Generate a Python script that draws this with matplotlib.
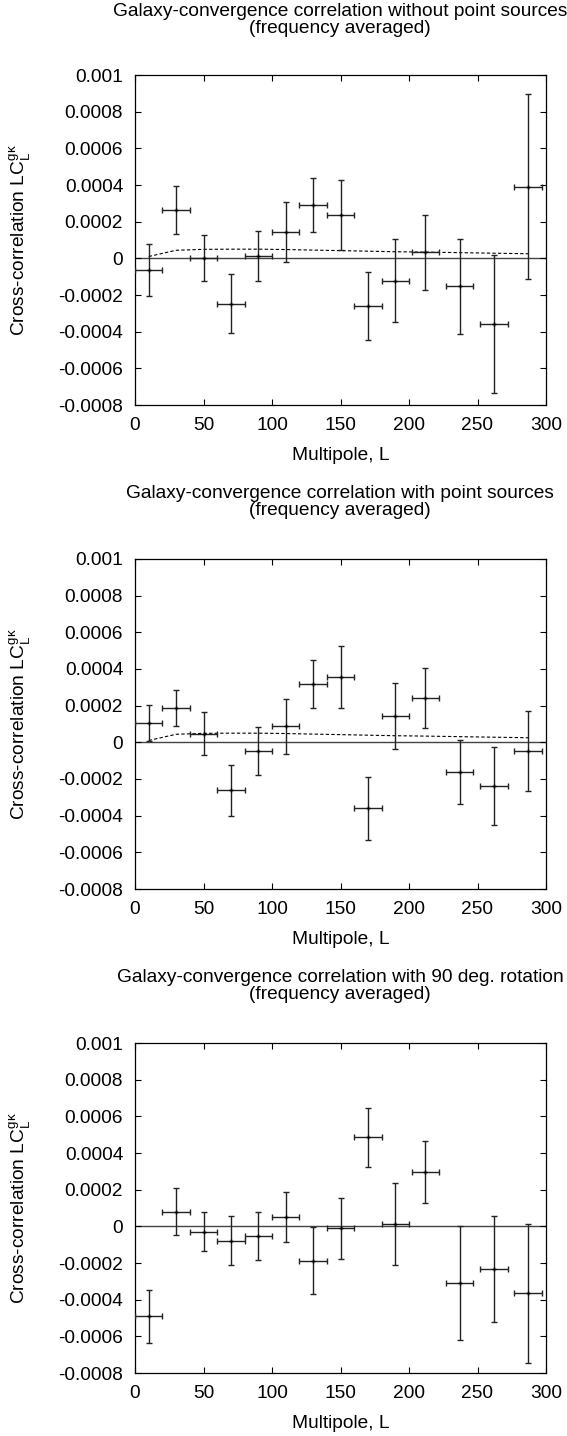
import matplotlib
matplotlib.use("Agg")
import matplotlib.pyplot as plt

plt.rcParams['font.family'] = ['Liberation Sans', 'DejaVu Sans']

# multipole bins (centres) and half width of each bin
L = [10, 30, 50, 70, 90, 110, 130, 150, 170, 190, 212, 237, 262, 287]
L_err = [10] * 14

# without point sources
y1 = [-0.000064, 0.000265, 0.0, -0.000247, 0.000012, 0.000142, 0.000289,
      0.000236, -0.00026, -0.000122, 0.000033, -0.000153, -0.00036, 0.000391]
e1 = [0.00014, 0.00013, 0.000125, 0.000163, 0.000136, 0.000163, 0.000148,
      0.000193, 0.000188, 0.000228, 0.000205, 0.00026, 0.000377, 0.000504]

# with point sources
y2 = [0.000105, 0.000187, 0.000047, -0.000262, -0.000049, 0.000087, 0.000318,
      0.000356, -0.00036, 0.000145, 0.000242, -0.000162, -0.000238, -0.000047]
e2 = [0.0001, 0.0001, 0.000116, 0.000138, 0.00013, 0.00015, 0.00013,
      0.00017, 0.000173, 0.00018, 0.000163, 0.000176, 0.000214, 0.000218]

# with 90 deg. rotation
y3 = [-0.000491, 0.00008, -0.000029, -0.000078, -0.000051, 0.000051, -0.000187,
      -0.000011, 0.000485, 0.000011, 0.000296, -0.000309, -0.000235, -0.000365]
e3 = [0.000145, 0.000127, 0.000105, 0.000133, 0.000131, 0.000134, 0.000182,
      0.000165, 0.000162, 0.000224, 0.00017, 0.000313, 0.000289, 0.00038]

# theory curve (dashed)
theory = [0.00001, 0.000044, 0.000049, 0.00005, 0.00005, 0.000048, 0.000045,
          0.000042, 0.000039, 0.000036, 0.000034, 0.000031, 0.000028, 0.000025]

titles = ["Galaxy-convergence correlation without point sources\n(frequency averaged)",
          "Galaxy-convergence correlation with point sources\n(frequency averaged)",
          "Galaxy-convergence correlation with 90 deg. rotation\n(frequency averaged)"]

yticks = [-0.0008, -0.0006, -0.0004, -0.0002, 0, 0.0002, 0.0004, 0.0006, 0.0008, 0.001]
ytick_labels = ["-0.0008", "-0.0006", "-0.0004", "-0.0002", "0",
                "0.0002", "0.0004", "0.0006", "0.0008", "0.001"]
xticks = [0, 50, 100, 150, 200, 250, 300]

W, H = 567, 1436
fig = plt.figure(figsize=(W / 100, H / 100), dpi=100)

tops = [75, 559, 1043]
title_y = [20, 502, 986]
data = [(y1, e1, True), (y2, e2, True), (y3, e3, False)]
fs = 13.8

for i in range(3):
    top = tops[i]
    ax = fig.add_axes([135 / W, 1 - (top + 330) / H, 411 / W, 330 / H])
    y, e, show_theory = data[i]
    ax.axhline(0, color='#444444', lw=1.0, zorder=1)
    if show_theory:
        ax.plot(L, theory, color='black', lw=0.8, ls=(0, (3, 2)), zorder=2)
    ax.errorbar(L, y, xerr=L_err, yerr=e, fmt='none', ecolor='#222222',
                elinewidth=1.0, capsize=2, capthick=1.0, zorder=3)
    ax.plot(L, y, ls='none', marker='+', ms=3, color='black', zorder=4)
    ax.set_xlim(0, 300)
    ax.set_ylim(-0.0008, 0.001)
    ax.set_xticks(xticks)
    ax.set_xticklabels([str(t) for t in xticks])
    ax.set_yticks(yticks)
    ax.set_yticklabels(ytick_labels)
    ax.tick_params(direction='in', length=4, width=0.8, top=True, right=True,
                   labelsize=fs, pad=8.5)
    for s in ax.spines.values():
        s.set_linewidth(0.9)
    ax.set_xlabel("Multipole, L", fontsize=fs, labelpad=9.5)
    fig.text(20 / W, 1 - (top + 165) / H, r"Cross-correlation LC$_\mathregular{L}^\mathregular{g\kappa}$",
             rotation=90, ha='center', va='center', fontsize=fs)
    fig.text(340 / W, 1 - title_y[i] / H, titles[i], ha='center', va='center',
             fontsize=fs, linespacing=0.95)

fig.savefig("out.png", dpi=100)
